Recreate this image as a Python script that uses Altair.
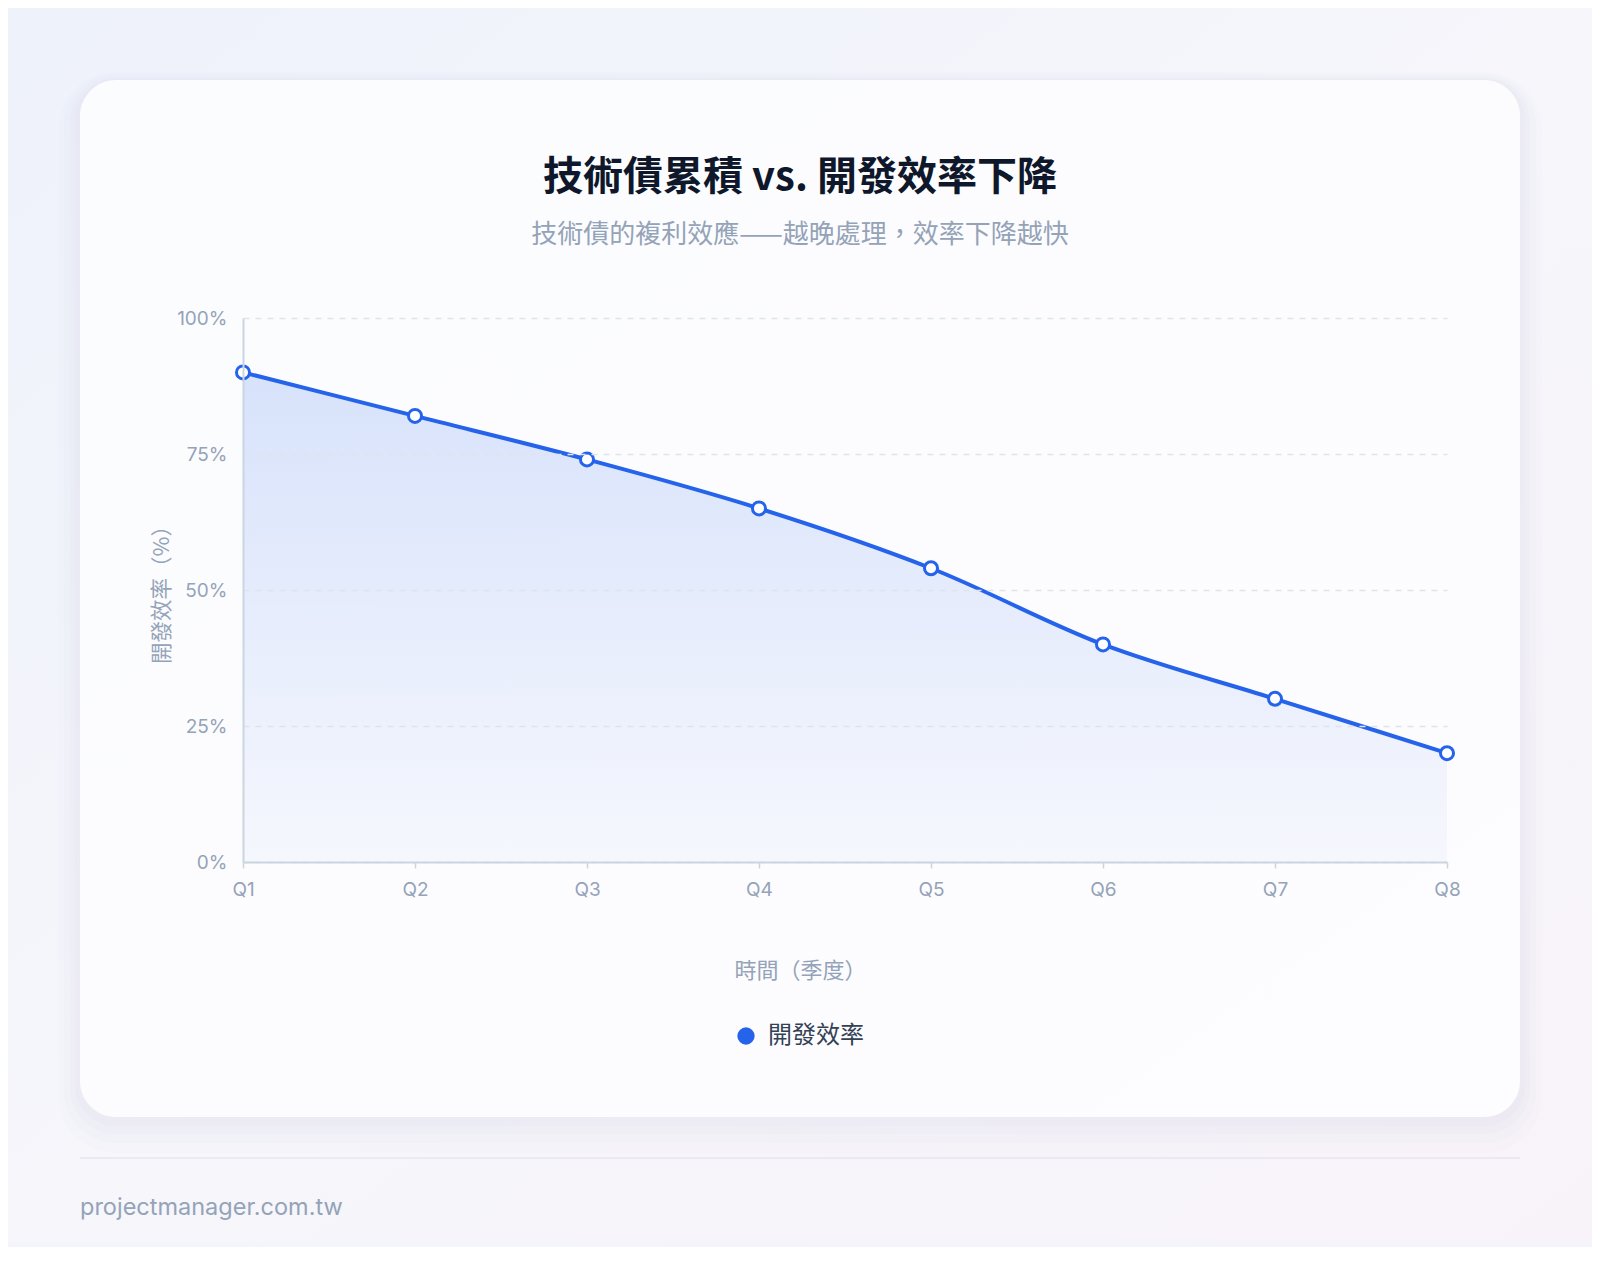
import altair as alt
import pandas as pd

# ---- data ----
quarters = ["Q1", "Q2", "Q3", "Q4", "Q5", "Q6", "Q7", "Q8"]
efficiency = [90, 82, 74, 65, 54, 40, 30, 20]
series_name = "開發效率"

title_text = "技術債累積 vs. 開發效率下降"
subtitle_text = "技術債的複利效應——越晚處理，效率下降越快"
x_title = "時間（季度）"
y_title = "開發效率（%）"
footer_text = "projectmanager.com.tw"
y_ticks = [0, 25, 50, 75, 100]

df = pd.DataFrame({"quarter": quarters, "value": efficiency, "series": [series_name] * len(quarters)})
one = pd.DataFrame({"k": [0]})

FONT = "Inter, Noto Sans CJK TC, sans-serif"
CJK = "Noto Sans CJK TC, Inter, sans-serif"
BLUE = "#2563eb"
MUTED = "#94a3b8"

W, H = 1204, 544

# ---- decorations (page background, card, separators) ----
bg = alt.Chart(one).mark_rect(
    color=alt.Gradient(
        gradient="linear",
        stops=[alt.GradientStop(color="#eef2fb", offset=0),
               alt.GradientStop(color="#f6f6fb", offset=0.5),
               alt.GradientStop(color="#f8f3f8", offset=1)],
        x1=0, y1=0, x2=1, y2=1),
).encode(x=alt.value(-236), x2=alt.value(1350), y=alt.value(-311), y2=alt.value(924))

shadows = []
for i, (grow, dy, op) in enumerate([(22, 14, 0.06), (16, 10, 0.08), (10, 7, 0.10), (5, 4, 0.12)]):
    shadows.append(
        alt.Chart(one).mark_rect(color="#dcd9e8", opacity=op, cornerRadius=36 + grow).encode(
            x=alt.value(-163 - grow), x2=alt.value(1277 + grow),
            y=alt.value(-238 - grow + dy), y2=alt.value(799 + grow + dy)))

card = alt.Chart(one).mark_rect(
    color=alt.Gradient(
        gradient="linear",
        stops=[alt.GradientStop(color="#fbfcfe", offset=0),
               alt.GradientStop(color="#fdfcfe", offset=1)],
        x1=0, y1=0, x2=1, y2=1),
    cornerRadius=36,
).encode(x=alt.value(-163), x2=alt.value(1277), y=alt.value(-238), y2=alt.value(799))

sep = alt.Chart(one).mark_rule(color="#e6e6ee", strokeWidth=1.5).encode(
    x=alt.value(-163), x2=alt.value(1277), y=alt.value(840))

title = alt.Chart(one).mark_text(
    text=title_text, font=CJK, fontSize=40, fontWeight="bold", color="#0f172a",
    align="center", baseline="middle").encode(x=alt.value(557), y=alt.value(-140))
subtitle = alt.Chart(one).mark_text(
    text=subtitle_text, font=CJK, fontSize=26, color=MUTED,
    align="center", baseline="middle").encode(x=alt.value(557), y=alt.value(-83))
footer = alt.Chart(one).mark_text(
    text=footer_text, font=FONT, fontSize=23.5, color=MUTED,
    align="left", baseline="middle").encode(x=alt.value(-163), y=alt.value(890))

# ---- data layers ----
x_enc = alt.X("quarter:N", sort=quarters,
              scale=alt.Scale(type="point", padding=0),
              axis=alt.Axis(title=x_title, labelAngle=0, labelFont=FONT, labelFontSize=19,
                            labelColor=MUTED, labelPadding=12, tickSize=6, tickColor="#cbd5e1",
                            tickWidth=1.5, domainColor="#cbd5e1", domainWidth=2, grid=False,
                            titleFont=CJK, titleFontSize=22, titleFontWeight="normal",
                            titleColor=MUTED, titleX=557, titleY=108, titleAlign="center",
                            titleBaseline="middle", zindex=1))
y_enc = alt.Y("value:Q", scale=alt.Scale(domain=[0, 100], nice=False),
              axis=alt.Axis(title=y_title, values=y_ticks, labelExpr="datum.value + '%'",
                            labelFont=FONT, labelFontSize=19, labelColor=MUTED, labelPadding=16,
                            ticks=False, domainColor="#cbd5e1", domainWidth=2,
                            grid=True, gridColor="#dfe3ea", gridDash=[6, 6], gridWidth=1.5,
                            titleFont=CJK, titleFontSize=21.5, titleFontWeight="normal",
                            titleColor=MUTED, titleX=-81, titleY=271, titleAngle=270,
                            titleAlign="center", titleBaseline="middle", zindex=1))

base = alt.Chart(df)

area = base.mark_area(
    interpolate="monotone",
    color=alt.Gradient(
        gradient="linear",
        stops=[alt.GradientStop(color="rgba(37,99,235,0.17)", offset=0),
               alt.GradientStop(color="rgba(37,99,235,0.03)", offset=1)],
        x1=1, x2=1, y1=0, y2=1),
).encode(x=x_enc, y=y_enc)

line = base.mark_line(interpolate="monotone", strokeWidth=4).encode(
    x=alt.X("quarter:N", sort=quarters),
    y="value:Q",
    color=alt.Color("series:N", scale=alt.Scale(domain=[series_name], range=[BLUE]),
                    legend=alt.Legend(title=None, orient="none", legendX=491, legendY=706,
                                      symbolType="circle", symbolSize=300,
                                      symbolFillColor=BLUE, symbolStrokeColor=BLUE,
                                      symbolStrokeWidth=0, labelFont=CJK, labelFontSize=24,
                                      labelColor="#334155", labelOffset=10, padding=0,
                                      zindex=1)),
)

points = base.mark_point(filled=False, fill="white", stroke=BLUE, strokeWidth=3,
                         size=170, opacity=1, fillOpacity=1).encode(
    x=alt.X("quarter:N", sort=quarters),
    y="value:Q",
)

chart = alt.layer(bg, *shadows, card, sep, title, subtitle, footer,
                  area, line, points).properties(
    width=W, height=H,
    padding={"left": 235, "top": 310, "right": 145, "bottom": 385},
    autosize=alt.AutoSizeParams(type="none"),
    background="#f4f5fb",
).configure_view(stroke=None).configure_axis(labelFont=FONT)

chart.save("out.html", embed_options={"renderer": "svg", "actions": False})
